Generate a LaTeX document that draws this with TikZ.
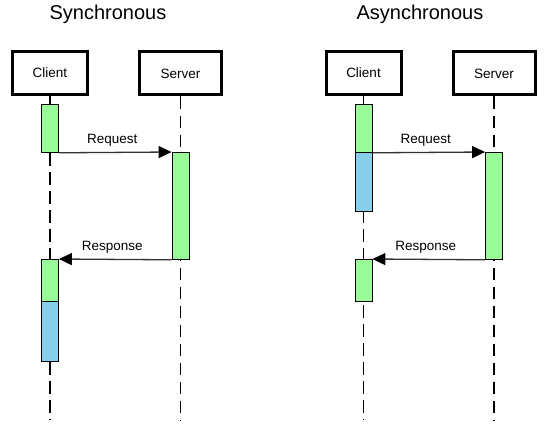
\documentclass[tikz,border=0pt]{standalone}
\usepackage{fontspec}
\setmainfont{Liberation Sans}
\usetikzlibrary{arrows.meta}
\definecolor{actgreen}{HTML}{98FB98}
\definecolor{waitblue}{HTML}{87CEEB}
\begin{document}
\begin{tikzpicture}
	[x=1pt, y=-1pt, font=\fontsize{13.5}{16}\selectfont,
	 actor/.style={draw, line width=3pt, minimum width=75pt, minimum height=43pt, inner sep=0pt},
	 server/.style={actor, minimum width=82pt},
	 life/.style={dash pattern=on 12.5pt off 6.5pt, line width=1.1pt},
	 act/.style={draw, line width=0.8pt, fill=actgreen, minimum width=17pt, inner sep=0pt, anchor=north},
	 wait/.style={act, fill=waitblue},
	 msg/.style={line width=1.3pt, draw=black!80, -{Triangle[length=13pt,width=12pt,color=black]}},
	 title/.style={font=\fontsize{20}{24}\selectfont, anchor=base}]
	\useasboundingbox (0,0) rectangle (553,441);
	% synchronous
	\node[title] (st) at (108,20) {Synchronous};
	\node[actor] (c) at (50,73) {Client};
	\node[server] (s) at (180.5,73.5) {Server};
	\coordinate (cend) at (50,420);
	\coordinate (send) at (180.5,420);
	\draw[life] (c.south) -- (cend);
	\draw[life] (s.south) -- (send);
	\node[act, minimum height=48pt] (c1) at (50,104) {};
	\node[act, minimum height=107pt] (s1) at (180.5,152) {};
	\node[act, minimum height=42pt] (c2) at (50,259) {};
	\node[wait, minimum height=60pt] (cw) at (50,301) {};
	\draw[msg] (c1.south east) -- node[above=2pt, xshift=-3pt] {Request} (s1.north west);
	\draw[msg] (s1.south west) -- node[above=2pt, xshift=-3pt] {Response} (c2.north east);
	% asynchronous
	\node[title] (at) at (420,20) {Asynchronous};
	\node[actor] (ac) at (363.5,73) {Client};
	\node[server] (as) at (494,73.5) {Server};
	\coordinate (acend) at (363.5,420);
	\coordinate (asend) at (494,420);
	\draw[life] (ac.south) -- (acend);
	\draw[life] (as.south) -- (asend);
	\node[act, minimum height=48pt] (ac1) at (363.5,104) {};
	\node[wait, minimum height=59pt] (aw) at (363.5,152) {};
	\node[act, minimum height=107pt] (as1) at (494,152) {};
	\node[act, minimum height=42pt] (ac2) at (363.5,259) {};
	\draw[msg] (ac1.south east) -- node[above=2pt, xshift=-3pt] {Request} (as1.north west);
	\draw[msg] (as1.south west) -- node[above=2pt, xshift=-3pt] {Response} (ac2.north east);
\end{tikzpicture}
\end{document}
